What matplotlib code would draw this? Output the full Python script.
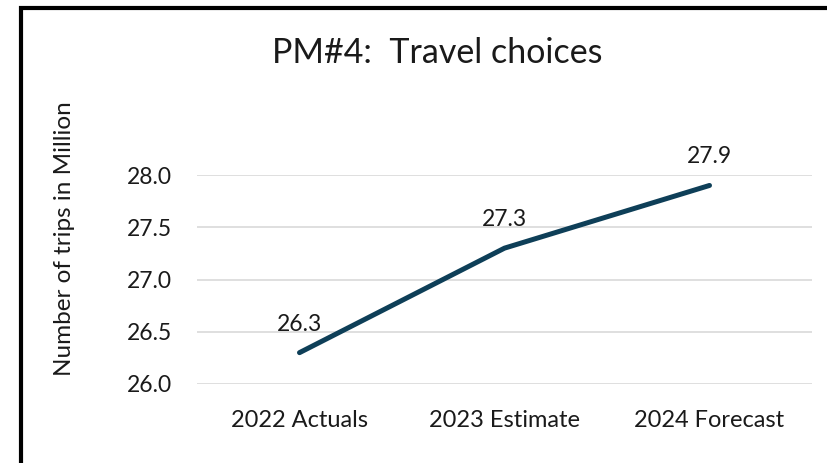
import matplotlib
matplotlib.use("Agg")
import matplotlib.pyplot as plt
from matplotlib.patches import Rectangle

categories = ["2022 Actuals", "2023 Estimate", "2024 Forecast"]
values = [26.3, 27.3, 27.9]
yticks = [26.0, 26.5, 27.0, 27.5, 28.0]
title = "PM#4:  Travel choices"
ylabel = "Number of trips in Million"

plt.rcParams['font.family'] = ['Lato', 'DejaVu Sans']

fig = plt.figure(figsize=(8.28, 4.63), dpi=100)
ax = fig.add_axes([197/828, 1-384/463, 615/828, (384-175)/463])

x = list(range(len(categories)))
ax.plot(x, values, color="#0E3F58", lw=3.6, solid_capstyle="round", clip_on=False, zorder=3)
for xi, v in zip(x, values):
    ax.annotate(f"{v:.1f}", (xi, v), xytext=(0, 13), textcoords="offset points",
                ha="center", va="bottom", fontsize=16.5, color="#1a1a1a")

ax.set_xlim(-0.5, len(categories)-0.5)
ax.set_ylim(26.0, 28.0)
ax.set_yticks(yticks)
ax.set_yticklabels([f"{t:.1f}" for t in yticks], fontsize=16.5, color="#1a1a1a")
ax.set_xticks(x)
ax.set_xticklabels(categories, fontsize=17, color="#1a1a1a")
ax.tick_params(axis='y', length=0, pad=18)
ax.tick_params(axis='x', length=0, pad=19)
ax.grid(axis='y', color="#d9d9d9", lw=1.2)
ax.set_axisbelow(True)
for s in ax.spines.values():
    s.set_visible(False)

fig.text(65/828, 1-239/463, ylabel, rotation=90, ha="center", va="center", fontsize=17.5, color="#1a1a1a")
fig.text(437/828, 1-53/463, title, ha="center", va="center", fontsize=24.5, color="#1a1a1a")

fig.patches.append(Rectangle((21/828, -0.1), 1.2, 1.1 - 8/463, transform=fig.transFigure,
                             fill=False, edgecolor="black", lw=3, zorder=10))

fig.savefig("out.png", dpi=100)
